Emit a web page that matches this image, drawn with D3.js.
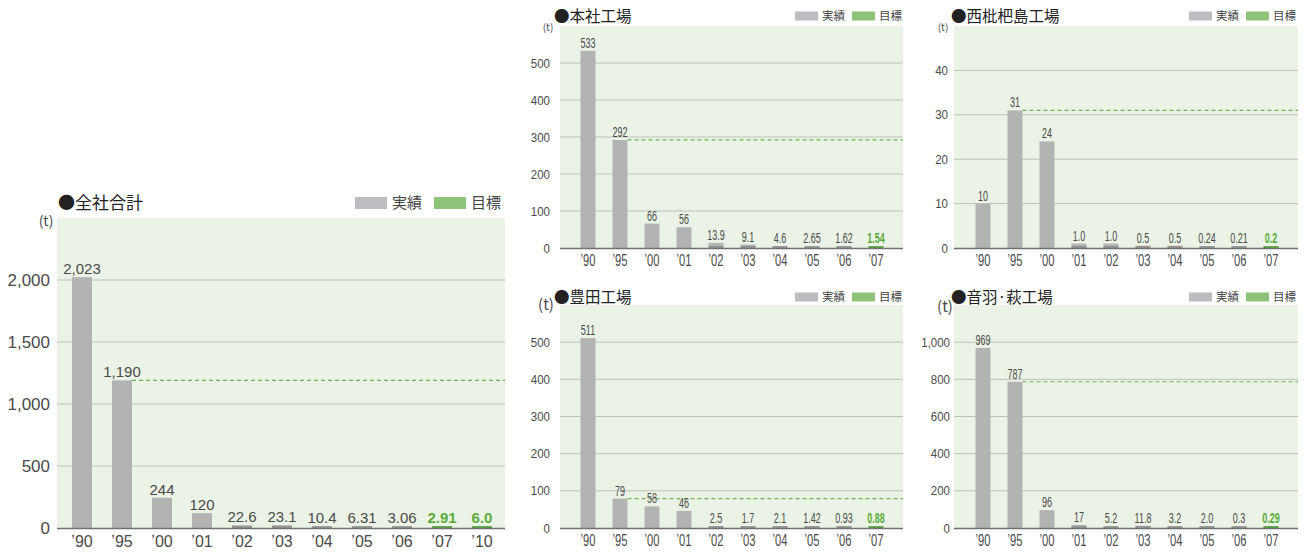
<!DOCTYPE html>
<html>
<head>
<meta charset="utf-8">
<script src="https://cdn.jsdelivr.net/npm/d3@7"></script>
<style>
  html, body { margin: 0; padding: 0; background: #fff; }
  svg { display: block; }
  .jp { font-family: "Noto Sans CJK JP", sans-serif; }
  .num { font-family: "Liberation Sans", "DejaVu Sans", sans-serif; }
</style>
</head>
<body>
<svg id="chart" width="1312" height="552"></svg>
<script>
// ---- Data -------------------------------------------------------------
const yearsTotal = ["’90", "’95", "’00", "’01", "’02", "’03", "’04", "’05", "’06", "’07", "’10"];
const totalValues = [2023, 1190, 244, 120, 22.6, 23.1, 10.4, 6.31, 3.06, 2.91, 6.0];
const totalLabels = ["2,023", "1,190", "244", "120", "22.6", "23.1", "10.4", "6.31", "3.06", "2.91", "6.0"];
const totalTicks = [0, 500, 1000, 1500, 2000];

const yearsPlant = ["’90", "’95", "’00", "’01", "’02", "’03", "’04", "’05", "’06", "’07"];

const honshaValues = [533, 292, 66, 56, 13.9, 9.1, 4.6, 2.65, 1.62, 1.54];
const honshaLabels = ["533", "292", "66", "56", "13.9", "9.1", "4.6", "2.65", "1.62", "1.54"];
const honshaTicks = [0, 100, 200, 300, 400, 500];

const nishibiwaValues = [10, 31, 24, 1.0, 1.0, 0.5, 0.5, 0.24, 0.21, 0.2];
const nishibiwaLabels = ["10", "31", "24", "1.0", "1.0", "0.5", "0.5", "0.24", "0.21", "0.2"];
const nishibiwaTicks = [0, 10, 20, 30, 40];

const toyotaValues = [511, 79, 58, 46, 2.5, 1.7, 2.1, 1.42, 0.93, 0.88];
const toyotaLabels = ["511", "79", "58", "46", "2.5", "1.7", "2.1", "1.42", "0.93", "0.88"];
const toyotaTicks = [0, 100, 200, 300, 400, 500];

const otowaValues = [969, 787, 96, 17, 5.2, 11.8, 3.2, 2.0, 0.3, 0.29];
const otowaLabels = ["969", "787", "96", "17", "5.2", "11.8", "3.2", "2.0", "0.3", "0.29"];
const otowaTicks = [0, 200, 400, 600, 800, 1000];

const legendLabels = ["実績", "目標"];

// ---- Styling ------------------------------------------------------------
const C = {
  bg: "#ebf3e6",
  bar: "#b3b3b3",
  barEdge: "#8e8e8e",
  target: "#8dc47a",
  targetText: "#5aac3a",
  dash: "#6cb552",
  grid: "#bcc1b9",
  axis: "#707070",
  text: "#4a4a4a",
  legendGrey: "#bdbdc1"
};

const svg = d3.select("#chart");
const fmt = d3.format(",");

// place a text element at (px, py), optionally squeezed horizontally
function placeText(sel, px, py, sx) {
  sel.attr("x", 0).attr("y", 0)
     .attr("transform", (d, i) => {
       const X = typeof px === "function" ? px(d, i) : px;
       const Y = typeof py === "function" ? py(d, i) : py;
       return `translate(${X},${Y}) scale(${sx},1)`;
     });
}

function drawPanel(o) {
  const g = svg.append("g");

  const y = d3.scaleLinear().domain([0, o.yMax]).range([o.plotBottom, o.plotTop]);
  const x = d3.scaleBand().domain(o.cats).range(o.bandRange)
    .paddingInner(o.padInner).paddingOuter(o.padOuter);

  // plot background
  g.append("rect")
    .attr("x", o.plotLeft).attr("y", o.plotTop)
    .attr("width", o.plotRight - o.plotLeft).attr("height", o.plotBottom - o.plotTop)
    .attr("fill", C.bg);

  // gridlines
  g.selectAll(".grid").data(o.ticks.filter(t => t > 0)).join("line")
    .attr("x1", o.plotLeft).attr("x2", o.plotRight)
    .attr("y1", d => y(d)).attr("y2", d => y(d))
    .attr("stroke", C.grid).attr("stroke-width", 1);

  // y tick labels
  const yt = g.selectAll(".ytick").data(o.ticks).join("text")
    .attr("class", "num")
    .attr("dy", "0.36em")
    .attr("text-anchor", "end")
    .attr("font-size", o.tickSize)
    .attr("fill", C.text)
    .text(d => fmt(d));
  placeText(yt, o.tickX, d => y(d), o.tickSx);

  // unit label
  g.append("text")
    .attr("class", "jp")
    .attr("x", o.unitX).attr("y", o.unitY)
    .attr("dy", "0.36em")
    .attr("text-anchor", "middle")
    .attr("font-size", o.unitSize)
    .attr("fill", C.text)
    .text("(t)");

  // target reference line starting at the right edge of the '95 bar
  const refX = x(o.cats[1]) + x.bandwidth();
  g.append("line")
    .attr("x1", refX).attr("x2", o.plotRight)
    .attr("y1", y(o.values[1])).attr("y2", y(o.values[1]))
    .attr("stroke", C.dash).attr("stroke-width", 1.2)
    .attr("stroke-dasharray", "4,3");

  const isTarget = i => i >= o.targetFrom;

  // bars
  g.selectAll(".bar").data(o.values).join("rect")
    .attr("x", (d, i) => x(o.cats[i]))
    .attr("width", x.bandwidth())
    .attr("y", d => Math.min(y(d), o.plotBottom - 1.5))
    .attr("height", d => Math.max(o.plotBottom - y(d), 1.5))
    .attr("fill", (d, i) => isTarget(i) ? C.target : C.bar);

  // thin darker base on very small bars
  g.selectAll(".base").data(o.values).join("rect")
    .attr("x", (d, i) => x(o.cats[i]))
    .attr("width", x.bandwidth())
    .attr("y", o.plotBottom - 2)
    .attr("height", 2)
    .attr("fill", (d, i) => isTarget(i) ? "#4f9a38" : C.barEdge)
    .attr("opacity", d => (o.plotBottom - y(d)) < 6 ? 0.8 : 0);

  // axis baseline
  g.append("line")
    .attr("x1", o.plotLeft).attr("x2", o.plotRight)
    .attr("y1", o.plotBottom + 0.5).attr("y2", o.plotBottom + 0.5)
    .attr("stroke", C.axis).attr("stroke-width", 1.5);

  // value labels
  const vl = g.selectAll(".val").data(o.values).join("text")
    .attr("class", "num")
    .attr("text-anchor", "middle")
    .attr("font-size", o.valSize)
    .attr("font-weight", (d, i) => isTarget(i) ? "bold" : "normal")
    .attr("fill", (d, i) => isTarget(i) ? C.targetText : C.text)
    .text((d, i) => o.labels[i]);
  placeText(vl,
    (d, i) => x(o.cats[i]) + x.bandwidth() / 2,
    d => Math.min(y(d), o.plotBottom - 2) - o.valGap,
    o.valSx);

  // category labels
  const cl = g.selectAll(".cat").data(o.cats).join("text")
    .attr("class", "num")
    .attr("dy", "0.36em")
    .attr("text-anchor", "middle")
    .attr("font-size", o.catSize)
    .attr("fill", C.text)
    .text(d => d);
  placeText(cl, d => x(d) + x.bandwidth() / 2, o.catY, o.catSx);

  // title
  g.append("text")
    .attr("class", "jp")
    .attr("x", o.titleX).attr("y", o.titleY)
    .attr("dy", "0.36em")
    .attr("font-size", o.titleSize)
    .attr("fill", "#222")
    .text("●" + o.title);

  // legend
  const lg = g.append("g").attr("transform", `translate(${o.legendX},${o.legendY})`);
  legendLabels.forEach((lab, i) => {
    const off = i * o.legendStep;
    lg.append("rect")
      .attr("x", off).attr("y", -o.swH / 2)
      .attr("width", o.swW).attr("height", o.swH)
      .attr("fill", i === 0 ? C.legendGrey : C.target);
    lg.append("text")
      .attr("class", "jp")
      .attr("x", off + o.swW + o.swGap).attr("y", 0)
      .attr("dy", "0.36em")
      .attr("font-size", o.legendSize)
      .attr("fill", "#444")
      .text(lab);
  });
}

// ---- Company total --------------------------------------------------------
drawPanel({
  title: "全社合計", cats: yearsTotal, values: totalValues, labels: totalLabels,
  ticks: totalTicks, yMax: 2500, targetFrom: 9,
  plotLeft: 57, plotRight: 505, plotTop: 218, plotBottom: 528,
  bandRange: [62, 502], padInner: 0.5, padOuter: 0.25,
  tickX: 50, tickSize: 17, tickSx: 1,
  unitX: 46, unitY: 221, unitSize: 14,
  valSize: 15, valGap: 3, valSx: 1,
  catY: 541, catSize: 16, catSx: 1,
  titleX: 58, titleY: 203, titleSize: 17,
  legendX: 355, legendY: 203, legendStep: 79, swW: 32, swH: 12, swGap: 5, legendSize: 15
});

// ---- Plant panels ---------------------------------------------------------
const plantCommon = {
  cats: yearsPlant, targetFrom: 9,
  padInner: 17 / 32, padOuter: 8.5 / 32,
  tickSize: 12.5, tickSx: 0.92,
  valSize: 14.5, valSx: 0.62, valGap: 3,
  catSize: 16, catSx: 0.7,
  titleSize: 15.5,
  swW: 23, swH: 9, swGap: 4, legendStep: 57, legendSize: 11.5
};

drawPanel(Object.assign({}, plantCommon, {
  title: "本社工場", values: honshaValues, labels: honshaLabels, ticks: honshaTicks, yMax: 600,
  plotLeft: 560, plotRight: 903, plotTop: 26, plotBottom: 248,
  bandRange: [572, 892], tickX: 550,
  unitX: 548, unitY: 27, unitSize: 10,
  catY: 260, titleX: 554, titleY: 16, legendX: 795, legendY: 16
}));

drawPanel(Object.assign({}, plantCommon, {
  title: "西枇杷島工場", values: nishibiwaValues, labels: nishibiwaLabels, ticks: nishibiwaTicks, yMax: 50,
  plotLeft: 954, plotRight: 1298, plotTop: 26, plotBottom: 248,
  bandRange: [967, 1287], tickX: 948,
  unitX: 943, unitY: 27, unitSize: 10,
  catY: 260, titleX: 951, titleY: 16, legendX: 1189, legendY: 16
}));

drawPanel(Object.assign({}, plantCommon, {
  title: "豊田工場", values: toyotaValues, labels: toyotaLabels, ticks: toyotaTicks, yMax: 600,
  plotLeft: 560, plotRight: 903, plotTop: 305, plotBottom: 528,
  bandRange: [572, 892], tickX: 550,
  unitX: 546, unitY: 305, unitSize: 15,
  catY: 540, titleX: 554, titleY: 297, legendX: 795, legendY: 297
}));

drawPanel(Object.assign({}, plantCommon, {
  title: "音羽·萩工場", values: otowaValues, labels: otowaLabels, ticks: otowaTicks, yMax: 1200,
  plotLeft: 954, plotRight: 1298, plotTop: 305, plotBottom: 528,
  bandRange: [967, 1287], tickX: 950,
  unitX: 945, unitY: 307, unitSize: 15,
  catY: 540, titleX: 951, titleY: 297, legendX: 1189, legendY: 297
}));
</script>
</body>
</html>
